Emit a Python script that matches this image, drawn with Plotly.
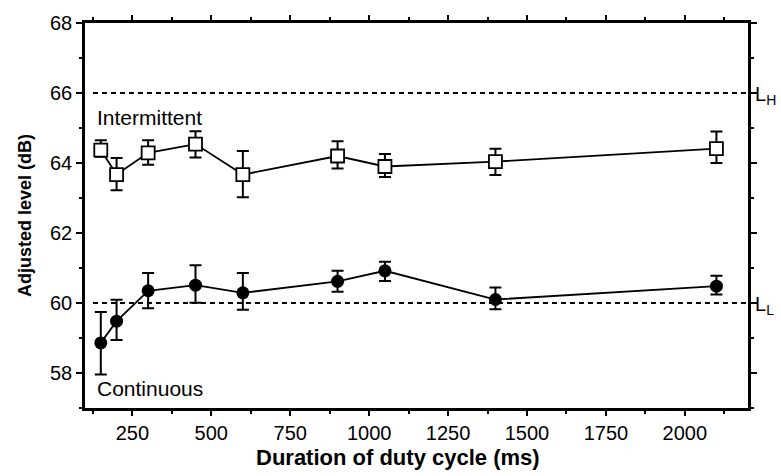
import plotly.graph_objects as go

durations = [150, 200, 300, 450, 600, 900, 1050, 1400, 2100]

inter_mean = [64.37, 63.67, 64.29, 64.54, 63.67, 64.20, 63.90, 64.04, 64.41]
inter_hi = [64.65, 64.14, 64.65, 64.91, 64.34, 64.62, 64.26, 64.41, 64.90]
inter_lo = [64.18, 63.22, 63.95, 64.16, 63.02, 63.84, 63.60, 63.66, 64.00]

cont_mean = [58.86, 59.48, 60.35, 60.51, 60.29, 60.62, 60.92, 60.10, 60.48]
cont_hi = [59.74, 60.09, 60.86, 61.08, 60.86, 60.92, 61.18, 60.44, 60.78]
cont_lo = [57.96, 58.94, 59.85, 60.01, 59.81, 60.32, 60.63, 59.82, 60.24]

L_H = 66
L_L = 60

x_ticks = [250, 500, 750, 1000, 1250, 1500, 1750, 2000]
y_ticks = [58, 60, 62, 64, 66, 68]

FONT = "Liberation Sans, Arial, sans-serif"

def err(mean, hi, lo):
    return dict(type="data", symmetric=False,
                array=[h - m for h, m in zip(hi, mean)],
                arrayminus=[m - l for m, l in zip(mean, lo)],
                color="black", thickness=2, width=6)

fig = go.Figure()
fig.add_trace(go.Scatter(
    x=durations, y=inter_mean, mode="lines+markers",
    line=dict(color="black", width=1.8),
    marker=dict(symbol="square", size=13, color="white",
                line=dict(color="black", width=1.8)),
    error_y=err(inter_mean, inter_hi, inter_lo),
    name="Intermittent", showlegend=False))
fig.add_trace(go.Scatter(
    x=durations, y=cont_mean, mode="lines+markers",
    line=dict(color="black", width=1.8),
    marker=dict(symbol="circle", size=13, color="black"),
    error_y=err(cont_mean, cont_hi, cont_lo),
    name="Continuous", showlegend=False))

for lvl in [L_H, L_L]:
    fig.add_shape(type="line", xref="paper", yref="y",
                  x0=0.012, x1=1, y0=lvl, y1=lvl,
                  line=dict(color="black", width=1.8, dash="5px,4px"))

fig.add_annotation(x=132, y=65.3, text="Intermittent", showarrow=False,
                   xanchor="left", yanchor="middle",
                   font=dict(family=FONT, size=21, color="black"))
fig.add_annotation(x=132, y=57.55, text="Continuous", showarrow=False,
                   xanchor="left", yanchor="middle",
                   font=dict(family=FONT, size=21, color="black"))
fig.add_annotation(xref="paper", x=1.008, y=L_H, text="L<sub>H</sub>",
                   showarrow=False, xanchor="left", yanchor="top", yshift=12,
                   font=dict(family=FONT, size=20, color="black"))
fig.add_annotation(xref="paper", x=1.008, y=L_L, text="L<sub>L</sub>",
                   showarrow=False, xanchor="left", yanchor="top", yshift=12,
                   font=dict(family=FONT, size=20, color="black"))
fig.add_annotation(xref="paper", yref="paper", x=0.472, y=-0.09,
                   text="<b>Duration of duty cycle (ms)</b>", showarrow=False,
                   xanchor="center", yanchor="top",
                   font=dict(family=FONT, size=22, color="black"))

fig.update_layout(
    width=781, height=476,
    margin=dict(l=85, r=33, t=15, b=68),
    paper_bgcolor="white", plot_bgcolor="white",
    font=dict(family=FONT, color="black"),
    xaxis=dict(
        range=[100, 2200], tickvals=x_ticks, ticktext=[str(v) for v in x_ticks],
        ticks="outside", ticklen=5, tickwidth=2, tickcolor="black",
        showline=True, linecolor="black", linewidth=2.5, mirror="ticks",
        showgrid=False, zeroline=False,
        tickfont=dict(family=FONT, size=20),
        minor=dict(tickvals=[125, 375, 625, 875, 1125, 1375, 1625, 1875, 2125],
                   ticks="outside", ticklen=3, tickwidth=1.5, tickcolor="black"),
    ),
    yaxis=dict(
        range=[57, 68], tickvals=y_ticks, ticktext=[str(v) for v in y_ticks],
        ticks="outside", ticklen=6, tickwidth=2, tickcolor="black",
        showline=True, linecolor="black", linewidth=2.5, mirror="ticks",
        showgrid=False, zeroline=False,
        tickfont=dict(family=FONT, size=20),
        minor=dict(tickvals=[57, 59, 61, 63, 65, 67],
                   ticks="outside", ticklen=3, tickwidth=1.5, tickcolor="black"),
        title=dict(text="<b>Adjusted level (dB)</b>",
                   font=dict(family=FONT, size=18), standoff=14),
    ),
)

fig.write_html("out.html")
